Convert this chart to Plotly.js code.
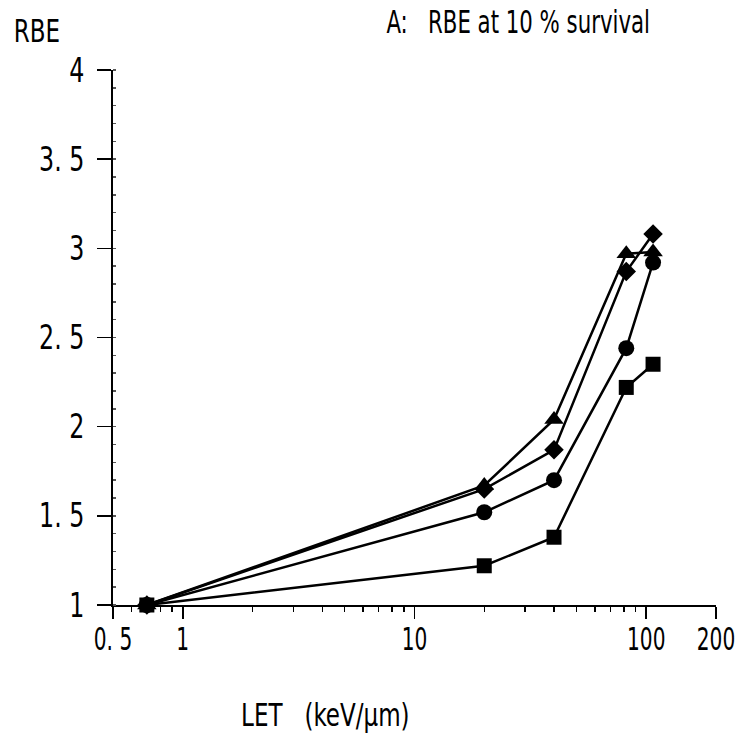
<!DOCTYPE html>
<html><head><meta charset="utf-8">
<script src="https://cdn.plot.ly/plotly-3.0.1.min.js"></script>
<style>body{margin:0;background:#fff}#c{width:743px;height:733px}</style>
</head><body><div id="c"></div>
<script>
const LET = [0.7, 20, 40, 82, 107];
const rbeTriangle = [1.0, 1.67, 2.04, 2.97, 2.98];
const rbeDiamond  = [1.0, 1.65, 1.87, 2.87, 3.08];
const rbeCircle   = [1.0, 1.52, 1.70, 2.44, 2.92];
const rbeSquare   = [1.0, 1.22, 1.38, 2.22, 2.35];
const xTickVals = [0.5, 1, 10, 100, 200];
const xTickText = ['0. 5', '1', '10', '100', '200'];
const yTickVals = [1, 1.5, 2, 2.5, 3, 3.5, 4];
const yTickText = ['1', '1. 5', '2', '2. 5', '3', '3. 5', '4'];

const FONT = '"DejaVu Sans Condensed", "DejaVu Sans", sans-serif';
function tr(y, sym, sz) {
  return {x: LET, y: y, type: 'scatter', mode: 'lines+markers',
    line: {color: '#000', width: 2.5},
    marker: {symbol: sym, size: sz, color: '#000'}, cliponaxis: false, showlegend: false};
}
const data = [
  tr(rbeSquare, 'square', 15),
  tr(rbeCircle, 'circle', 16),
  tr(rbeDiamond, 'diamond', 15),
  tr(rbeTriangle, 'triangle-up', 17)
];
const NB = '\u00a0';
const layout = {
  width: 743, height: 733,
  margin: {l: 113, r: 27, t: 70, b: 128},
  paper_bgcolor: '#fff', plot_bgcolor: '#fff',
  font: {family: FONT, size: 30, color: '#000'},
  showlegend: false,
  xaxis: {type: 'log', range: [Math.log10(0.5), Math.log10(200)],
    tickvals: xTickVals, ticktext: xTickText, ticks: 'outside', ticklen: 12, tickwidth: 1.5,
    tickcolor: '#000', showline: true, linecolor: '#000', linewidth: 2, showgrid: false,
    zeroline: false, ticklabelstandoff: 0, ticklabeloverflow: 'allow', tickfont: {family: FONT, size: 32},
    minor: {tickvals: [0.6,0.7,0.8,0.9,2,3,4,5,6,7,8,9,20,30,40,50,60,70,80,90], ticks: 'outside', ticklen: 5, tickcolor: '#000'}},
  yaxis: {range: [1, 4], tickvals: yTickVals, ticktext: yTickText, ticks: 'outside',
    ticklen: 14, tickwidth: 1.5, tickcolor: '#000', showline: true, linecolor: '#000',
    linewidth: 2, showgrid: false, zeroline: false, ticklabelstandoff: 6, ticklabeloverflow: 'allow',
    tickfont: {family: FONT, size: 33},
    minor: {dtick: 0.1, ticks: 'inside', ticklen: 3, tickcolor: '#555'}},
  annotations: [
    {text: 'RBE', xref: 'paper', yref: 'paper', x: -0.126, y: 1.073, showarrow: false,
      xanchor: 'center', yanchor: 'middle', font: {family: FONT, size: 32}},
    {text: 'A:' + NB + NB + NB + 'RBE at 10 % survival', xref: 'paper', yref: 'paper', x: 0.672, y: 1.09, showarrow: false,
      xanchor: 'center', yanchor: 'middle', font: {family: FONT, size: 32}},
    {text: 'LET' + NB + NB + NB + '(keV/μm)', xref: 'paper', yref: 'paper', x: 0.353, y: -0.206, showarrow: false,
      xanchor: 'center', yanchor: 'middle', font: {family: FONT, size: 32}}
  ]
};
const gd = document.getElementById('c');
function squeeze(t, s, dy) {
  const x = parseFloat(t.getAttribute('x') || '0');
  const prev = t.getAttribute('transform') || '';
  t.setAttribute('transform', prev + ' translate(' + x + ',' + (dy || 0) + ') scale(' + s + ',1) translate(' + (-x) + ',0)');
}
Plotly.newPlot(gd, data, layout, {staticPlot: true}).then(function () {
  // narrow text horizontally around its own anchor, to mimic the condensed original lettering
  gd.querySelectorAll('.xtick text').forEach(function (t) { squeeze(t, 0.7, -7); });
  gd.querySelectorAll('.ytick text').forEach(function (t) { squeeze(t, 0.8, 0); });
  const ann = gd.querySelectorAll('.annotation-text');
  const sc = [0.8, 0.74, 0.8];
  ann.forEach(function (t, i) { squeeze(t, sc[i] || 0.75, 0); });
});
</script></body></html>
